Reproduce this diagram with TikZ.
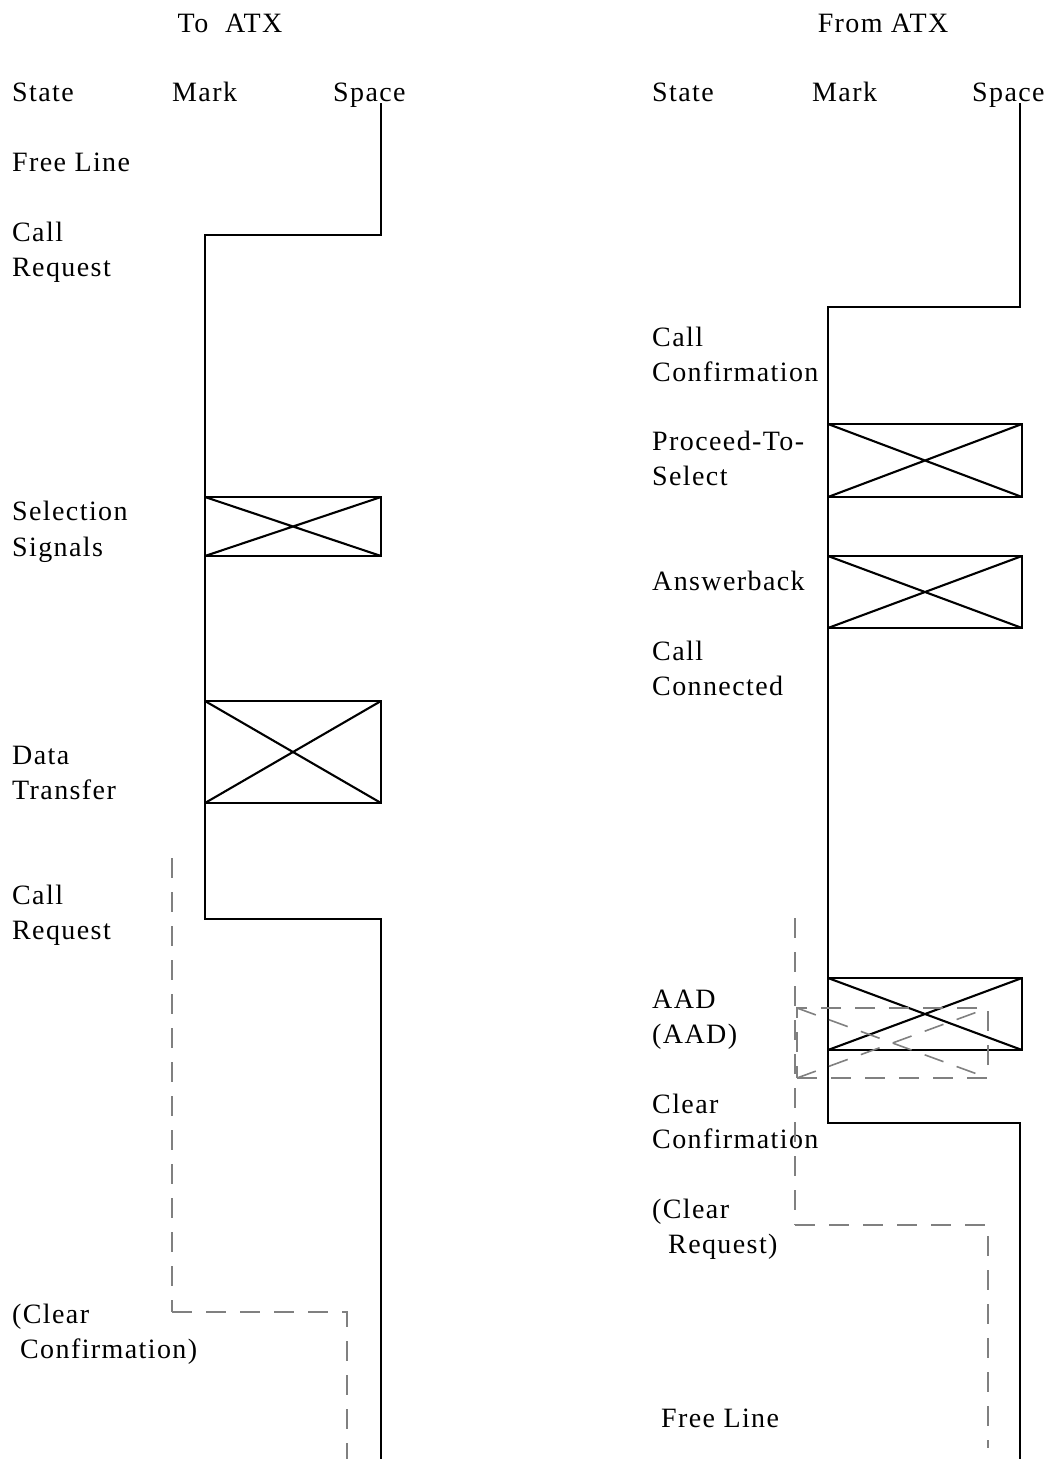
\documentclass[tikz,border=0pt]{standalone}
\usepackage{fontspec}
\setmainfont{Liberation Serif}[LetterSpace=5]
\begin{document}
\begin{tikzpicture}[x=1pt,y=-1pt,
  lbl/.style={anchor=base west, inner sep=0pt, font=\fontsize{28}{34}\selectfont},
  ttl/.style={anchor=base, inner sep=0pt, font=\fontsize{28}{34}\selectfont},
  wave/.style={line width=2.7pt, line join=miter},
  xbox/.style={draw, line width=2.7pt, inner sep=0pt, outer sep=0pt},
  diag/.style={line width=2.1pt},
  dsh/.style={draw=black!50, line width=1.6pt, dash pattern=on 20pt off 14pt},
]
\path[use as bounding box] (0,0) rectangle (1055,1459);

% ---------------- Left: To ATX ----------------
\node[ttl] (t1) at (230,32) {To\ \ ATX};
\node[lbl] (hs1) at (12,101) {State};
\node[lbl] (hm1) at (172,101) {Mark};
\node[lbl] (hp1) at (333,101) {Space};

\node[lbl] (l1) at (12,171) {Free Line};
\node[lbl] (l2a) at (12,241) {Call};
\node[lbl] (l2b) at (12,276) {Request};
\node[lbl] (l3a) at (12,520) {Selection};
\node[lbl] (l3b) at (12,556) {Signals};
\node[lbl] (l4a) at (12,764) {Data};
\node[lbl] (l4b) at (12,799) {Transfer};
\node[lbl] (l5a) at (12,904) {Call};
\node[lbl] (l5b) at (12,939) {Request};
\node[lbl] (l6a) at (12,1323) {(Clear};
\node[lbl] (l6b) at (20,1358) {Confirmation)};

\coordinate (L0) at (381,103);
\coordinate (L1) at (381,235);
\coordinate (L2) at (205,235);
\coordinate (L3) at (205,919);
\coordinate (L4) at (381,919);
\coordinate (L5) at (381,1459);
\draw[wave] (L0) -- (L1) -- (L2) -- (L3) -- (L4) -- (L5);

\node[xbox, minimum width=176pt, minimum height=59pt] (b1) at (293,526.5) {};
\draw[diag] (b1.north west) -- (b1.south east) (b1.south west) -- (b1.north east);
\node[xbox, minimum width=176pt, minimum height=102pt] (b2) at (293,752) {};
\draw[diag] (b2.north west) -- (b2.south east) (b2.south west) -- (b2.north east);

\coordinate (D0) at (172,858);
\coordinate (D1) at (172,1312);
\coordinate (D2) at (347,1312);
\coordinate (D3) at (347,1459);
\draw[dsh] (D0) -- (D1);
\draw[dsh] (D1) -- (D2) -- (D3);

% ---------------- Right: From ATX ----------------
\node[ttl] (t2) at (883,32) {From ATX};
\node[lbl] (hs2) at (652,101) {State};
\node[lbl] (hm2) at (812,101) {Mark};
\node[lbl] (hp2) at (972,101) {Space};

\node[lbl] (r1a) at (652,346) {Call};
\node[lbl] (r1b) at (652,381) {Confirmation};
\node[lbl] (r2a) at (652,450) {Proceed-To-};
\node[lbl] (r2b) at (652,485) {Select};
\node[lbl] (r3) at (652,590) {Answerback};
\node[lbl] (r4a) at (652,660) {Call};
\node[lbl] (r4b) at (652,695) {Connected};
\node[lbl] (r5a) at (652,1008) {AAD};
\node[lbl] (r5b) at (652,1043) {(AAD)};
\node[lbl] (r6a) at (652,1113) {Clear};
\node[lbl] (r6b) at (652,1148) {Confirmation};
\node[lbl] (r7a) at (652,1218) {(Clear};
\node[lbl] (r7b) at (668,1253) {Request)};
\node[lbl] (r8) at (661,1427) {Free Line};

\coordinate (R0) at (1020,103);
\coordinate (R1) at (1020,307);
\coordinate (R2) at (828,307);
\coordinate (R3) at (828,1123);
\coordinate (R4) at (1020,1123);
\coordinate (R5) at (1020,1459);
\draw[wave] (R0) -- (R1) -- (R2) -- (R3) -- (R4) -- (R5);

\node[xbox, minimum width=194pt, minimum height=73pt] (c1) at (925,460.5) {};
\draw[diag] (c1.north west) -- (c1.south east) (c1.south west) -- (c1.north east);
\node[xbox, minimum width=194pt, minimum height=72pt] (c2) at (925,592) {};
\draw[diag] (c2.north west) -- (c2.south east) (c2.south west) -- (c2.north east);
\node[xbox, minimum width=194pt, minimum height=72pt] (c3) at (925,1014) {};
\draw[diag] (c3.north west) -- (c3.south east) (c3.south west) -- (c3.north east);

\node[dsh, minimum width=191pt, minimum height=70pt, inner sep=0pt, outer sep=0pt] (db) at (892.5,1043) {};
\draw[dsh] (db.north west) -- (db.south east);
\draw[dsh] (db.south west) -- (db.north east);

\coordinate (E0) at (795,918);
\coordinate (E1) at (795,1225);
\coordinate (E2) at (988,1225);
\coordinate (E3) at (988,1448);
\draw[dsh] (E0) -- (E1);
\draw[dsh] (E1) -- (E2) -- (E3);
\end{tikzpicture}
\end{document}
